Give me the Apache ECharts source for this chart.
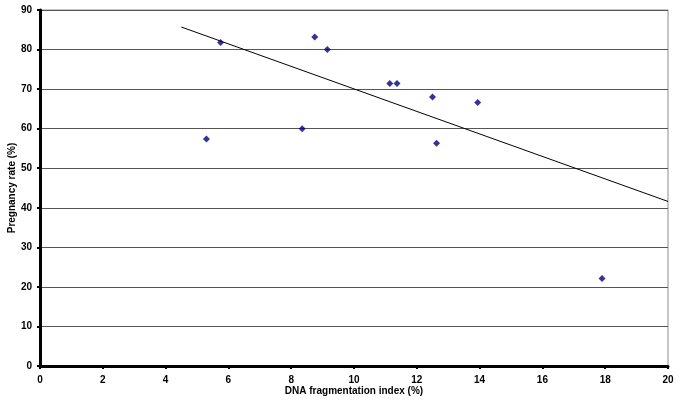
<!DOCTYPE html>
<html><head><meta charset="utf-8">
<script src="https://cdn.jsdelivr.net/npm/echarts@6/dist/echarts.min.js"></script>
<style>html,body{margin:0;padding:0;background:#fff}#c{width:685px;height:408px}</style>
</head><body><div id="c"></div>
<script>
const fragIndex = [5.75, 5.3, 8.75, 9.15, 8.35, 11.14, 11.37, 12.5, 13.94, 12.63, 17.9];
const pregRate  = [81.8, 57.4, 83.2, 80.0, 60.0, 71.4, 71.4, 68.0, 66.6, 56.3, 22.1];
const trendX = [4.5, 20];
const trendY = [85.7, 41.6];
const xTitle = 'DNA fragmentation index (%)';
const yTitle = 'Pregnancy rate (%)';

const pts = fragIndex.map((x, i) => [x, pregRate[i]]);
const trend = trendX.map((x, i) => [x, trendY[i]]);
const font = {fontFamily: 'Liberation Sans, Arial, sans-serif', fontWeight: 'bold', fontSize: 10, color: '#000'};

const chart = echarts.init(document.getElementById('c'), null, {renderer: 'canvas'});
chart.setOption({
  animation: false,
  grid: {left: 40, right: 17, top: 10, bottom: 42, containLabel: false, outerBoundsMode: 'none',
         show: true, borderColor: '#8c8c8c', borderWidth: 1, backgroundColor: 'transparent'},
  xAxis: {
    type: 'value', min: 0, max: 20, interval: 2,
    name: xTitle, nameLocation: 'middle', nameGap: 20, nameMoveOverlap: false,
    nameTextStyle: font,
    axisLine: {show: true, onZero: false, lineStyle: {color: '#000', width: 3}},
    axisTick: {show: true, length: 3, lineStyle: {color: '#000', width: 2}},
    axisLabel: Object.assign({margin: 9}, font),
    splitLine: {show: false}
  },
  yAxis: {
    type: 'value', min: 0, max: 90, interval: 10,
    name: yTitle, nameLocation: 'middle', nameGap: 28, nameRotate: 90, nameMoveOverlap: false,
    nameTextStyle: Object.assign({verticalAlign: 'middle'}, font),
    axisLine: {show: true, onZero: false, lineStyle: {color: '#000', width: 3}},
    axisTick: {show: true, length: 3, lineStyle: {color: '#000', width: 2}},
    axisLabel: Object.assign({margin: 8}, font),
    splitLine: {show: true, lineStyle: {color: '#555', width: 1}}
  },
  series: [
    {type: 'line', data: trend, symbol: 'none', lineStyle: {color: '#000', width: 1}, z: 3},
    {type: 'scatter', data: pts, symbol: 'diamond', symbolSize: 7, itemStyle: {color: '#000080'}, z: 4}
  ]
});
</script></body></html>
